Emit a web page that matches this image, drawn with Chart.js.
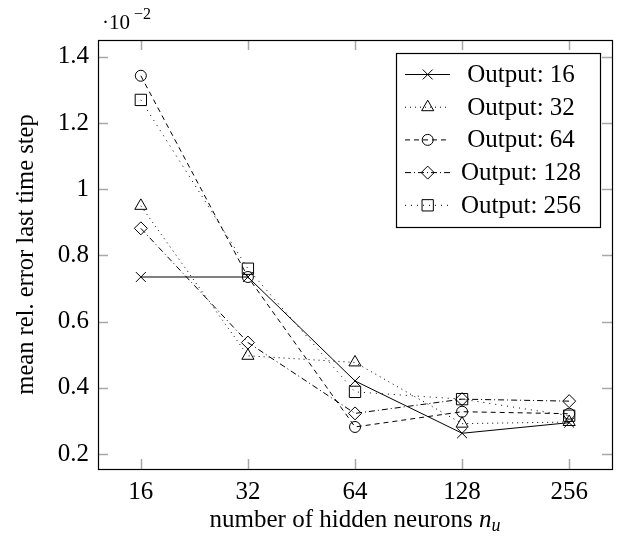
<!DOCTYPE html>
<html>
<head>
<meta charset="utf-8">
<script src="https://cdn.jsdelivr.net/npm/chart.js@4/dist/chart.umd.min.js"></script>
<style>
  body { margin: 0; background: #fff; }
  #wrap { width: 621px; height: 540px; }
</style>
</head>
<body>
<div id="wrap"><canvas id="errChart" width="621" height="540"></canvas></div>
<script>
// hidden neurons (x categories)
const categories = ['16', '32', '64', '128', '256'];
const seriesNames = ['Output: 16', 'Output: 32', 'Output: 64', 'Output: 128', 'Output: 256'];

// mean rel. error, in units of 10^-2
const out16  = [0.735, 0.735, 0.421, 0.263, 0.295];
const out32  = [0.950, 0.497, 0.477, 0.292, 0.297];
const out64  = [1.343, 0.735, 0.282, 0.328, 0.322];
const out128 = [0.882, 0.537, 0.323, 0.366, 0.360];
const out256 = [1.270, 0.760, 0.388, 0.366, 0.316];

const yTicks = [0.2, 0.4, 0.6, 0.8, 1, 1.2, 1.4];
const yTickLabels = ['0.2', '0.4', '0.6', '0.8', '1', '1.2', '1.4'];

const FONT = '"Liberation Serif", "Times New Roman", serif';

const styles = [
  { dash: [], point: 'crossRot', r: 7 },
  { dash: [1, 4], point: 'triangle', r: 7 },
  { dash: [5, 4], point: 'circle', r: 5.5 },
  { dash: [6, 3, 1, 3], point: 'rectRot', r: 6.5 },
  { dash: [1, 5], point: 'rect', r: 8 }
];

const allSeries = [out16, out32, out64, out128, out256];

const datasets = allSeries.map((vals, i) => ({
  label: seriesNames[i],
  data: vals.map((v, j) => ({ x: j, y: v })),
  borderColor: '#000',
  borderWidth: 1,
  borderDash: styles[i].dash,
  backgroundColor: 'rgba(0,0,0,0)',
  pointStyle: styles[i].point,
  pointRadius: styles[i].r,
  pointBorderColor: '#000',
  pointBackgroundColor: 'rgba(0,0,0,0)',
  pointBorderWidth: 1,
  tension: 0
}));

// frame, inward ticks, axis titles, exponent and legend
const decorations = {
  id: 'decorations',
  afterDraw(chart) {
    const ctx = chart.ctx;
    const a = chart.chartArea;
    const xs = chart.scales.x, ys = chart.scales.y;
    ctx.save();

    // tick marks inside frame
    ctx.strokeStyle = '#a8a8a8';
    ctx.lineWidth = 1.5;
    ctx.setLineDash([]);
    yTicks.forEach(v => {
      const y = Math.round(ys.getPixelForValue(v)) + 0.5;
      ctx.beginPath();
      ctx.moveTo(a.left, y); ctx.lineTo(a.left + 10, y);
      ctx.moveTo(a.right, y); ctx.lineTo(a.right - 10, y);
      ctx.stroke();
    });
    categories.forEach((c, j) => {
      const x = Math.round(xs.getPixelForValue(j)) + 0.5;
      ctx.beginPath();
      ctx.moveTo(x, a.bottom); ctx.lineTo(x, a.bottom - 10);
      ctx.moveTo(x, a.top); ctx.lineTo(x, a.top + 10);
      ctx.stroke();
    });

    // frame
    ctx.strokeStyle = '#000';
    ctx.lineWidth = 1.2;
    ctx.strokeRect(a.left + 0.5, a.top + 0.5, a.right - a.left, a.bottom - a.top);

    ctx.fillStyle = '#000';
    // exponent
    ctx.textBaseline = 'alphabetic';
    ctx.textAlign = 'left';
    ctx.font = '21px ' + FONT;
    ctx.fillText('\u00b710', a.left + 4, 29);
    ctx.font = '16px ' + FONT;
    ctx.fillText('\u22122', a.left + 36, 19);

    // y title
    ctx.save();
    ctx.translate(27, (a.top + a.bottom) / 2);
    ctx.rotate(-Math.PI / 2);
    ctx.textAlign = 'center';
    ctx.textBaseline = 'middle';
    ctx.font = '24.5px ' + FONT;
    ctx.fillText('mean rel. error last time step', 0, 0);
    ctx.restore();

    // x title with italic n_u
    const base = 'number of hidden neurons ';
    ctx.font = '25px ' + FONT;
    const w1 = ctx.measureText(base).width;
    ctx.font = 'italic 25px ' + FONT;
    const w2 = ctx.measureText('n').width;
    ctx.font = 'italic 18px ' + FONT;
    const w3 = ctx.measureText('u').width;
    let x0 = (a.left + a.right) / 2 - (w1 + w2 + w3) / 2;
    const by = 527;
    ctx.textAlign = 'left';
    ctx.font = '25px ' + FONT;
    ctx.fillText(base, x0, by);
    ctx.font = 'italic 25px ' + FONT;
    ctx.fillText('n', x0 + w1, by);
    ctx.font = 'italic 18px ' + FONT;
    ctx.fillText('u', x0 + w1 + w2, by + 4);

    // legend
    const lx = 396, ly = 53, lw = 204, lh = 174;
    ctx.fillStyle = '#fff';
    ctx.fillRect(lx, ly, lw, lh);
    ctx.strokeStyle = '#000';
    ctx.lineWidth = 1.2;
    ctx.strokeRect(lx + 0.5, ly + 0.5, lw, lh);
    chart.data.datasets.forEach((ds, i) => {
      const ry = 74.5 + i * 32.7;
      ctx.strokeStyle = '#000';
      ctx.lineWidth = 1;
      ctx.setLineDash(ds.borderDash);
      ctx.beginPath();
      ctx.moveTo(405, ry); ctx.lineTo(450, ry);
      ctx.stroke();
      ctx.setLineDash([]);
      ctx.fillStyle = 'rgba(0,0,0,0)';
      Chart.helpers.drawPoint(ctx, {
        pointStyle: ds.pointStyle,
        radius: ds.pointRadius,
        borderWidth: 1,
        rotation: 0
      }, 427.7, ry);
      ctx.fillStyle = '#000';
      ctx.textAlign = 'center';
      ctx.textBaseline = 'middle';
      ctx.font = '25px ' + FONT;
      ctx.fillText(ds.label, 521, ry + 1);
    });
    ctx.restore();
  }
};

new Chart(document.getElementById('errChart').getContext('2d'), {
  type: 'line',
  data: { datasets: datasets },
  options: {
    responsive: false,
    animation: false,
    devicePixelRatio: 1,
    layout: { padding: { top: 40, right: 5, left: 0, bottom: 0 } },
    plugins: {
      legend: { display: false },
      tooltip: { enabled: false }
    },
    scales: {
      x: {
        type: 'linear',
        min: -0.4,
        max: 4.4,
        grid: { display: false, drawTicks: false },
        border: { display: false },
        afterBuildTicks: s => { s.ticks = categories.map((c, j) => ({ value: j })); },
        afterFit: s => { s.height = 71; },
        ticks: {
          color: '#000',
          padding: 8,
          maxRotation: 0,
          autoSkip: false,
          font: { family: FONT, size: 25 },
          callback: v => categories[v]
        }
      },
      y: {
        type: 'linear',
        min: 0.155,
        max: 1.451,
        grid: { display: false, drawTicks: false },
        border: { display: false },
        afterBuildTicks: s => { s.ticks = yTicks.map(v => ({ value: v })); },
        afterFit: s => { s.width = 98; },
        ticks: {
          color: '#000',
          padding: 9,
          autoSkip: false,
          font: { family: FONT, size: 25 },
          callback: v => yTickLabels[yTicks.indexOf(v)]
        }
      }
    }
  },
  plugins: [decorations]
});
</script>
</body>
</html>
